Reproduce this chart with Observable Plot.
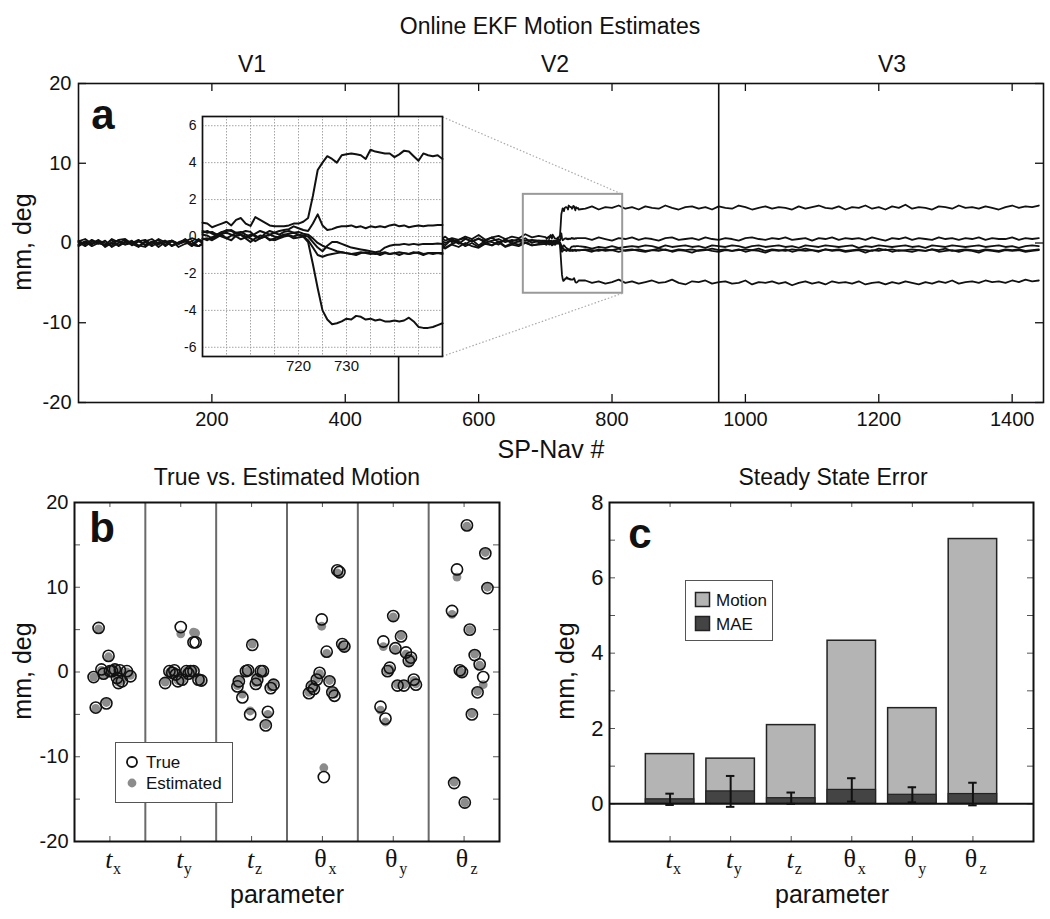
<!DOCTYPE html>
<html><head><meta charset="utf-8">
<script src="https://cdn.jsdelivr.net/npm/d3@7"></script>
<script src="https://cdn.jsdelivr.net/npm/@observablehq/plot@0.6"></script>
<style>
body{margin:0;background:#fff;}
#fig{position:relative;width:1050px;height:919px;background:#fff;font-family:"Liberation Sans",Arial,sans-serif;color:#111;overflow:hidden}
.wrap{position:absolute;}
.lbl{position:absolute;white-space:nowrap;transform:translate(-50%,-50%);line-height:1}
.legend{position:absolute;background:#fff;border:1px solid #555;box-sizing:border-box;}
.legend .it{position:absolute;white-space:nowrap;line-height:1;transform:translateY(-50%);}
</style></head><body><div id="fig"></div>
<script>
// ---------------- Panel a data ----------------
const seriesNames = ["A","B","C","D","E","F"];
const vBounds = [480, 960];
const versionLabels = ["V1","V2","V3"];
const xTicksA = [200,400,600,800,1000,1200,1400];
const yTicksA = [-20,-10,0,10,20];
// sample positions
const preX = d3.range(0, 700, 10);     // 0..690
const insetX = d3.range(700, 751, 1);  // 700..750
const postX = d3.range(760, 1441, 10); // 760..1440

const preA = [0.3,-0.2,0.4,0.0,-0.3,0.5,0.1,-0.2,0.3,-0.4, 0.2,0.5,-0.1,0.3,-0.3,0.1,0.4,-0.2,0.5,0.0, -0.3,0.3,0.1,-0.4,0.4,0.2,-0.1,0.5,-0.2,0.3, 0.0,0.4,-0.3,0.2,0.6,-0.1,0.3,0.5,0.0,0.4, -0.2,0.6,0.2,0.4,-0.1,0.5,0.3,0.7,0.1,0.6, 0.4,0.8,0.2,0.5,0.9,0.3,0.6,0.4,0.8,0.5, 1.0,0.4,0.7,0.9,0.5,0.8,0.6,1.1,0.7,0.9];
const preB = [-0.3,0.2,-0.1,0.4,-0.4,0.1,0.3,-0.2,0.0,0.4, -0.3,0.2,-0.5,0.1,0.3,-0.1,0.2,-0.4,0.3,0.0, 0.4,-0.2,0.1,-0.3,0.5,0.0,-0.2,0.3,-0.1,0.4, -0.4,0.2,0.0,0.5,-0.2,0.3,-0.3,0.1,0.4,-0.1, 0.3,-0.3,0.5,0.0,0.2,-0.2,0.6,0.1,-0.1,0.4, 0.0,0.5,-0.2,0.3,0.6,0.0,0.4,-0.1,0.5,0.2, 0.6,0.0,0.3,0.5,0.1,0.4,0.2,0.6,0.0,0.3];
const preC = [0.1,-0.4,0.2,-0.1,0.3,-0.5,0.0,0.4,-0.3,0.2, -0.2,0.1,0.4,-0.4,0.2,-0.1,0.5,-0.2,-0.4,0.2, 0.0,-0.3,0.3,-0.5,0.1,0.4,-0.2,0.2,-0.4,0.0, 0.5,-0.3,0.2,0.6,-0.2,0.3,-0.4,0.4,-0.1,0.2, 0.5,-0.3,0.4,-0.2,0.6,-0.4,0.1,0.5,-0.3,0.3, -0.1,0.6,-0.4,0.2,0.4,-0.3,0.5,0.0,-0.2,0.4, -0.3,0.3,0.1,-0.2,0.5,-0.1,0.2,0.0,0.3,0.1];
const preD = [-0.4,0.1,-0.2,0.3,-0.5,0.0,-0.3,0.2,-0.1,-0.5, 0.2,-0.4,0.1,-0.2,0.3,-0.5,-0.1,0.2,-0.4,0.0, -0.2,-0.5,0.1,-0.3,0.2,-0.1,-0.6,0.1,-0.3,0.0, -0.5,0.2,-0.3,-0.6,0.1,-0.4,-0.1,-0.7,-0.2,0.1, -0.5,-0.1,-0.6,-0.3,0.1,-0.5,-0.2,-0.7,0.0,-0.4, -0.6,-0.1,-0.5,0.1,-0.3,-0.7,-0.2,-0.5,0.0,-0.4, -0.6,-0.1,-0.3,0.1,-0.5,-0.2,-0.4,0.0,-0.3,-0.2];
const preE = [0.2,0.5,-0.1,0.3,0.0,-0.3,0.4,0.5,-0.1,0.2, 0.4,-0.2,0.5,0.1,0.3,-0.1,0.2,0.6,0.3,-0.2, 0.1,0.4,-0.1,0.5,0.3,0.0,0.6,-0.2,0.3,0.5, 0.0,0.4,-0.2,0.3,0.6,0.1,0.4,0.2,0.7,-0.1, 0.4,0.2,0.6,0.0,0.5,0.3,0.7,0.1,0.4,0.6, 0.2,0.5,0.0,0.6,0.3,0.8,0.1,0.4,0.6,0.2, 0.5,0.3,0.7,0.1,0.4,0.2,0.5,0.3,0.4,0.3];
const preF = [-0.2,0.2,-0.4,0.0,-0.2,0.4,-0.4,0.1,0.2,-0.3, -0.5,0.1,-0.2,0.3,-0.4,0.0,0.4,-0.2,-0.4,0.2, 0.0,-0.4,0.3,-0.2,-0.5,0.1,0.2,-0.4,0.0,-0.5, 0.2,-0.3,0.1,-0.6,0.3,-0.2,-0.5,0.2,-0.3,0.0, -0.6,0.2,-0.3,0.1,-0.5,0.3,-0.2,-0.6,0.1,-0.4, 0.2,-0.5,0.0,-0.3,0.3,-0.6,-0.1,0.2,-0.4,0.0, -0.5,0.1,-0.3,0.2,-0.4,0.0,-0.2,0.1,-0.3,-0.1];

const insA = [0.75,0.7,0.5,0.6,0.7,0.8,0.6,0.9,1.0,0.7, 0.57,1.05,0.9,0.75,0.6,0.55,0.55,0.55,0.6,0.7, 0.7,0.8,1.0,2.2,3.6,4.0,4.35,4.2,4.0,4.4, 4.45,4.5,4.45,4.4,4.2,4.7,4.6,4.55,4.5,4.5, 4.3,4.45,4.65,4.6,4.35,4.1,4.5,4.4,4.35,4.4, 4.2];
const insB = [0.2,0.3,0.15,0.1,0.25,0.3,0.35,0.2,0.25,0.1, 0.0,0.15,0.3,0.2,0.1,0.2,0.3,0.35,0.4,0.55, 0.45,0.35,0.3,0.7,1.2,0.6,0.35,0.4,0.5,0.55, 0.55,0.6,0.5,0.55,0.45,0.55,0.5,0.55,0.5,0.6, 0.65,0.55,0.6,0.5,0.55,0.6,0.55,0.6,0.6,0.62, 0.62];
const insC = [0.1,0.05,-0.1,0.0,0.15,0.2,0.1,0.0,-0.15,-0.05, 0.1,0.05,-0.1,0.0,0.1,0.0,-0.05,0.1,0.15,0.2, 0.1,0.05,0.0,-0.3,-0.6,-0.8,-0.5,-0.3,-0.3,-0.4, -0.5,-0.6,-0.65,-0.7,-0.75,-0.8,-0.85,-0.8,-0.6,-0.5, -0.45,-0.45,-0.4,-0.45,-0.4,-0.45,-0.4,-0.4,-0.4,-0.38, -0.4];
const insD = [-0.1,-0.2,-0.05,0.1,0.0,-0.1,-0.2,0.05,0.1,0.0, -0.1,-0.25,-0.1,0.0,-0.15,-0.2,-0.1,0.0,0.05,-0.1, -0.05,0.0,-0.2,-0.6,-1.0,-1.1,-1.0,-0.95,-0.9,-0.85, -0.9,-0.95,-1.0,-0.9,-0.85,-0.9,-0.95,-0.9,-0.85,-0.95, -0.9,-0.85,-0.9,-0.95,-0.85,-0.9,-1.0,-0.9,-0.9,-0.9, -0.9];
const insE = [0.3,0.2,0.25,0.1,0.2,0.35,0.3,0.15,0.2,0.3, 0.25,0.0,-0.1,0.15,0.3,0.2,0.1,0.25,0.3,0.2, 0.25,0.15,0.1,-0.1,-0.35,-0.5,-0.6,-0.7,-0.8,-0.85, -0.9,-0.95,-0.9,-0.85,-0.9,-0.95,-0.9,-1.0,-0.9,-0.95, -0.9,-1.0,-0.9,-0.95,-0.9,-0.85,-0.95,-0.9,-0.95,-0.9, -0.95];
const insF = [-0.15,-0.1,-0.2,-0.05,0.1,-0.1,0.05,0.2,0.1,-0.1, -0.3,-0.1,0.05,0.0,-0.2,-0.1,0.0,0.1,0.05,0.0, 0.1,0.0,-0.3,-1.5,-2.8,-4.0,-4.5,-4.75,-4.7,-4.6, -4.45,-4.5,-4.3,-4.35,-4.5,-4.45,-4.55,-4.5,-4.6,-4.6, -4.55,-4.6,-4.55,-4.4,-4.6,-4.9,-4.95,-4.95,-4.9,-4.8, -4.7];

const postA = [4.3,4.6,4.2,4.5,4.4,4.7,4.3,4.5,4.2,4.6, 4.4,4.3,4.7,4.4,4.2,4.5,4.6,4.3,4.5,4.2, 4.6,4.4,4.3,4.7,4.5,4.2,4.4,4.6,4.3,4.5, 4.4,4.2,4.6,4.3,4.5,4.7,4.4,4.3,4.6,4.2, 4.5,4.4,4.7,4.3,4.5,4.2,4.6,4.4,4.8,4.3, 4.5,4.4,4.2,4.6,4.5,4.3,4.7,4.4,4.5,4.3, 4.6,4.4,4.2,4.5,4.7,4.4,4.6,4.5,4.7];
const postB = [0.6,0.4,0.7,0.5,0.3,0.6,0.5,0.7,0.4,0.6, 0.5,0.3,0.6,0.7,0.4,0.5,0.6,0.4,0.7,0.5, 0.4,0.6,0.5,0.3,0.6,0.7,0.5,0.4,0.6,0.5, 0.7,0.4,0.5,0.6,0.3,0.6,0.5,0.7,0.4,0.6, 0.5,0.6,0.4,0.7,0.5,0.3,0.6,0.5,0.7,0.4, 0.6,0.5,0.4,0.7,0.5,0.6,0.4,0.6,0.5,0.7, 0.4,0.6,0.5,0.5,0.7,0.4,0.6,0.5,0.6];
const postC = [-0.5,-0.7,-0.5,-0.6,-0.4,-0.6,-0.5,-0.4,-0.5,-0.3, -0.4,-0.6,-0.3,-0.5,-0.4,-0.3,-0.5,-0.4,-0.6,-0.3, -0.4,-0.5,-0.3,-0.4,-0.6,-0.4,-0.3,-0.5,-0.4,-0.3, -0.5,-0.4,-0.6,-0.3,-0.4,-0.5,-0.3,-0.4,-0.5,-0.4, -0.3,-0.6,-0.4,-0.5,-0.3,-0.4,-0.5,-0.4,-0.3,-0.5, -0.4,-0.6,-0.3,-0.4,-0.5,-0.3,-0.4,-0.5,-0.4,-0.3, -0.5,-0.4,-0.3,-0.5,-0.4,-0.6,-0.4,-0.3,-0.4];
const postD = [-0.9,-1.1,-0.8,-1.0,-0.9,-1.1,-0.9,-0.8,-1.0,-1.1, -0.9,-1.0,-0.8,-1.1,-0.9,-1.0,-1.2,-0.9,-0.8,-1.0, -1.1,-0.9,-1.0,-0.8,-1.1,-0.9,-1.0,-1.2,-0.9,-1.0, -0.8,-1.1,-0.9,-1.0,-0.9,-1.1,-0.8,-1.0,-0.9,-1.1, -1.0,-0.9,-1.2,-0.9,-1.0,-0.8,-1.1,-0.9,-1.0,-1.1, -0.9,-1.0,-0.8,-1.1,-1.0,-0.9,-1.1,-0.9,-1.0,-1.2, -0.9,-1.0,-1.1,-0.9,-1.0,-0.9,-1.1,-1.0,-0.9];
const postE = [-0.8,-0.9,-1.0,-0.8,-0.9,-0.7,-1.0,-0.9,-0.8,-1.0, -0.9,-0.7,-0.9,-1.0,-0.8,-0.9,-0.8,-1.0,-0.9,-0.7, -0.9,-0.8,-1.0,-0.9,-0.8,-0.9,-0.7,-1.0,-0.8,-0.9, -1.0,-0.8,-0.9,-0.7,-0.9,-1.0,-0.8,-0.9,-0.8,-1.0, -0.9,-0.8,-0.9,-1.0,-0.7,-0.9,-0.8,-1.0,-0.9,-0.8, -0.9,-1.0,-0.8,-0.9,-0.7,-1.0,-0.9,-0.8,-0.9,-1.0, -0.8,-0.9,-1.0,-0.8,-0.9,-0.8,-1.0,-0.9,-0.8];
const postF = [-4.7,-5.0,-4.8,-5.1,-4.9,-4.6,-5.0,-4.8,-5.1,-4.9, -4.7,-5.0,-4.9,-4.6,-5.0,-5.2,-4.8,-4.9,-4.7,-5.1, -4.9,-4.8,-5.1,-5.0,-4.7,-5.2,-4.9,-5.0,-4.8,-5.1, -4.9,-5.3,-5.0,-4.8,-5.1,-4.9,-5.2,-4.8,-5.0,-4.9, -5.1,-4.8,-5.2,-5.0,-4.9,-5.2,-4.9,-5.1,-4.8,-5.0, -5.2,-4.9,-5.1,-4.8,-5.0,-4.7,-5.1,-4.9,-4.8,-5.0, -4.7,-4.9,-4.8,-5.0,-4.7,-4.9,-4.6,-4.8,-4.7];

const preVals = [preA,preB,preC,preD,preE,preF];
const insVals = [insA,insB,insC,insD,insE,insF];
const postVals = [postA,postB,postC,postD,postE,postF];

// zoom box and connectors (data coords of main panel)
const zoomBox = {x1: 667, x2: 816, y1: -6.3, y2: 6.1};
const connectors = [
  {x1: 546, y1: 15.8, x2: 816, y2: 6.1},
  {x1: 546, y1: -14.2, x2: 816, y2: -6.3}
];
const insetXTicks = [720, 730];
const insetYTicks = [-6,-4,-2,0,2,4,6];
const insetGridX = [705,710,715,720,725,730,735,740,745];

// ---------------- Panel b data ----------------
const paramMain = ["t","t","t","θ","θ","θ"];
const paramSub = ["x","y","z","x","y","z"];
// [x offset within category, true, estimated]
const bTx = [[-0.16,5.2,5.1],[-0.02,1.9,1.8],[-0.23,-0.6,-0.6],[-0.12,0.3,0.2],[-0.09,-0.2,-0.3],[0.0,0.1,0.1],[0.03,0.1,0.0],[0.1,-0.7,-0.6],[0.14,0.2,0.1],[0.17,-1.1,-1.0],[0.24,0.1,0.0],[0.29,-0.5,-0.4],[0.12,-1.3,-1.2],[-0.2,-4.2,-4.3],[-0.05,-3.7,-3.6],[0.07,0.3,0.3]];
const bTy = [[0.0,5.3,4.5],[0.18,3.5,4.7],[0.21,3.5,4.6],[-0.22,-1.3,-1.2],[-0.16,0.1,0.0],[-0.12,-0.1,-0.2],[-0.07,-0.3,-0.2],[-0.04,-1.1,-1.0],[0.02,-0.9,-0.9],[0.08,0.1,0.1],[0.14,0.1,0.0],[0.11,-0.2,-0.1],[0.25,-0.9,-0.8],[0.29,-1.0,-1.0],[0.18,0.1,0.2],[-0.09,0.2,0.1]];
const bTz = [[0.01,3.2,3.3],[-0.08,0.1,0.0],[-0.05,0.2,0.1],[0.13,0.1,0.0],[0.16,0.1,0.0],[-0.18,-1.1,-1.0],[-0.2,-1.7,-1.6],[-0.13,-3.0,-2.6],[0.06,-1.4,-1.3],[0.08,-0.9,-0.8],[0.31,-1.5,-1.4],[0.27,-1.9,-1.8],[-0.02,-5.0,-4.6],[0.23,-4.7,-5.0],[0.2,-6.3,-6.2]];
const bRx = [[0.21,12.0,11.7],[0.24,11.8,11.5],[-0.01,6.2,5.4],[0.06,2.4,2.2],[0.28,3.3,3.2],[0.31,3.0,2.9],[-0.04,-0.1,-0.2],[-0.08,-0.9,-0.8],[-0.15,-1.7,-1.6],[-0.19,-2.5,-2.4],[-0.12,-2.0,-1.9],[0.1,-1.1,-1.0],[0.14,-2.4,-2.3],[0.17,-2.8,-2.6],[0.02,-12.4,-11.3]];
const bRy = [[0.0,6.6,6.5],[-0.14,3.6,3.0],[0.11,4.2,4.3],[0.03,2.8,2.7],[0.18,2.3,2.1],[0.25,1.7,1.6],[0.22,1.3,1.2],[-0.05,0.5,0.4],[-0.08,0.1,0.1],[0.06,-1.6,-1.5],[0.15,-1.6,-1.5],[0.29,-0.9,-1.0],[0.32,-1.5,-1.4],[-0.18,-4.1,-4.5],[-0.11,-5.5,-5.9]];
const bRz = [[0.04,17.3,17.2],[0.3,14.0,14.1],[-0.1,12.1,11.2],[0.33,9.9,10.0],[-0.17,7.2,6.8],[0.08,5.0,5.0],[0.15,2.0,2.1],[0.22,0.9,0.8],[-0.06,0.2,0.1],[-0.03,0.0,-0.1],[0.27,-0.6,-1.5],[0.19,-2.4,-2.3],[0.11,-5.0,-4.9],[-0.14,-13.1,-13.0],[0.01,-15.4,-15.4]];
const bGroups = [bTx,bTy,bTz,bRx,bRy,bRz];
const yTicksB = [-20,-10,0,10,20];
const yMinorB = [-15,-10,-5,0,5,10,15];

// ---------------- Panel c data ----------------
const cMotion = [1.32,1.2,2.09,4.33,2.54,7.03];
const cMAE = [0.12,0.33,0.15,0.37,0.24,0.26];
const cSD = [0.15,0.41,0.15,0.31,0.2,0.3];
const yTicksC = [0,2,4,6,8];
const yMinorC = [0,1,2,3,4,5,6,7];

// ---------------- build ----------------
const fig = document.getElementById("fig");
const ff = '"Liberation Sans", Arial, sans-serif';
const serif = '"Liberation Serif", "DejaVu Serif", serif';
const ink = "#111";

function place(el, left, top) {
  const w = document.createElement("div");
  w.className = "wrap"; w.style.left = left + "px"; w.style.top = top + "px";
  w.appendChild(el); fig.appendChild(w); return w;
}
function label(txt, x, y, size, opts = {}) {
  const d = document.createElement("div");
  d.className = "lbl"; d.textContent = txt;
  d.style.left = x + "px"; d.style.top = y + "px"; d.style.fontSize = size + "px";
  if (opts.bold) d.style.fontWeight = "bold";
  if (opts.rotate) d.style.transform = `translate(-50%,-50%) rotate(${opts.rotate}deg)`;
  fig.appendChild(d); return d;
}

// Panel a
const mainData = [];
seriesNames.forEach((s, k) => {
  preX.forEach((x, i) => { if (preVals[k][i] !== undefined) mainData.push({s, x, y: preVals[k][i]}); });
  insetX.forEach((x, i) => { if (insVals[k][i] !== undefined) mainData.push({s, x, y: insVals[k][i]}); });
  postX.forEach((x, i) => { if (postVals[k][i] !== undefined) mainData.push({s, x, y: postVals[k][i]}); });
});
const insetData = [];
seriesNames.forEach((s, k) => insetX.forEach((x, i) => insetData.push({s, x, y: insVals[k][i]})));

const aW = 1050, aH = 450, aML = 78, aMR = 7, aMT = 83, aMB = 48;
const aFW = aW - aML - aMR, aFH = aH - aMT - aMB;
const tl = 8;
const plotA = Plot.plot({
  width: aW, height: aH, marginLeft: aML, marginRight: aMR, marginTop: aMT, marginBottom: aMB,
  x: {domain: [0, 1447]}, y: {domain: [-20, 20]},
  style: {fontFamily: ff, fontSize: "20px", color: ink, background: "transparent"},
  marks: [
    Plot.ruleX(vBounds, {x: d => d, stroke: ink, strokeWidth: 1.6}),
    Plot.line(mainData, {x: "x", y: "y", z: "s", stroke: ink, strokeWidth: 1.8}),
    Plot.rect([zoomBox], {x1: "x1", x2: "x2", y1: "y1", y2: "y2", fill: "none", stroke: "#9a9a9a", strokeWidth: 2}),
    Plot.link(connectors, {x1: "x1", y1: "y1", x2: "x2", y2: "y2", stroke: "#aaa", strokeWidth: 1.2, strokeDasharray: "1.5,2"}),
    Plot.tickX(xTicksA, {x: d => d, insetTop: aFH - tl, stroke: ink, strokeWidth: 1.3}),
    Plot.tickX(xTicksA, {x: d => d, insetBottom: aFH - tl, stroke: ink, strokeWidth: 1.3}),
    Plot.tickY(yTicksA, {y: d => d, insetRight: aFW - tl, stroke: ink, strokeWidth: 1.3}),
    Plot.tickY(yTicksA, {y: d => d, insetLeft: aFW - tl, stroke: ink, strokeWidth: 1.3}),
    Plot.axisX({ticks: xTicksA, tickSize: 0, tickPadding: 9, tickFormat: d => String(d), label: null}),
    Plot.axisY({ticks: yTicksA, tickSize: 0, tickPadding: 7, tickFormat: d => String(d), label: null}),
    Plot.frame({stroke: ink, strokeWidth: 1.6})
  ]
});
place(plotA, 0, 0);

// Inset
const iW = 292, iH = 290, iML = 42, iMR = 10, iMT = 16, iMB = 34;
const plotInset = Plot.plot({
  width: iW, height: iH, marginLeft: iML, marginRight: iMR, marginTop: iMT, marginBottom: iMB,
  x: {domain: [700, 750]}, y: {domain: [-6.5, 6.5]},
  style: {fontFamily: ff, fontSize: "14px", color: ink, background: "transparent"},
  marks: [
    Plot.frame({fill: "white", stroke: "none"}),
    Plot.ruleX(insetGridX, {x: d => d, stroke: "#9a9a9a", strokeWidth: 0.9, strokeDasharray: "1.5,1.5"}),
    Plot.ruleY(insetYTicks, {y: d => d, stroke: "#9a9a9a", strokeWidth: 0.9, strokeDasharray: "1.5,1.5"}),
    Plot.line(insetData, {x: "x", y: "y", z: "s", stroke: ink, strokeWidth: 2}),
    Plot.axisX({ticks: insetXTicks, tickSize: 0, tickPadding: 4, tickFormat: d => String(d), label: null, fontSize: 15}),
    Plot.axisY({ticks: insetYTicks, tickSize: 0, tickPadding: 6, tickFormat: d => String(d), label: null}),
    Plot.frame({stroke: ink, strokeWidth: 1.7})
  ]
});
place(plotInset, 160, 100);

label("Online EKF Motion Estimates", 550, 26, 23);
const vCenters = [252, 555, 892];
versionLabels.forEach((v, i) => label(v, vCenters[i], 64, 23));
label("mm, deg", 22, 242, 25, {rotate: -90});
label("SP-Nav #", 551, 449, 25);
label("a", 103, 115, 42, {bold: true});

// Panel b
const bData = [];
bGroups.forEach((g, c) => g.forEach(([off, tru, est]) => bData.push({c, x: c + 0.5 + off, tru, est})));
const catIdx = [0,1,2,3,4,5];
const tIdx = [0,1,2], rIdx = [3,4,5];
const bW = 520, bH = 459, bML = 74, bMR = 21, bMT = 42, bMB = 78;
const bFW = bW - bML - bMR, bFH = bH - bMT - bMB;
const plotB = Plot.plot({
  width: bW, height: bH, marginLeft: bML, marginRight: bMR, marginTop: bMT, marginBottom: bMB,
  x: {domain: [0, 6], axis: null}, y: {domain: [-20, 20]},
  style: {fontFamily: ff, fontSize: "20px", color: ink, background: "transparent"},
  marks: [
    Plot.ruleX([1,2,3,4,5], {x: d => d, stroke: "#6a6a6a", strokeWidth: 2}),
    Plot.tickX(catIdx, {x: i => i + 0.5, insetTop: bFH - 5, stroke: "#555"}),
    Plot.tickX(catIdx, {x: i => i + 0.5, insetBottom: bFH - 5, stroke: "#555"}),
    Plot.tickY(yMinorB, {y: d => d, insetRight: bFW - 6, stroke: "#555"}),
    Plot.tickY(yMinorB, {y: d => d, insetLeft: bFW - 6, stroke: "#555"}),
    Plot.dot(bData, {x: "x", y: "est", r: 4.4, fill: "#8c8c8c", stroke: "none"}),
    Plot.dot(bData, {x: "x", y: "tru", r: 5.6, fill: "none", stroke: ink, strokeWidth: 1.6}),
    Plot.axisY({ticks: yTicksB, tickSize: 0, tickPadding: 6, tickFormat: d => String(d), label: null}),
    Plot.text(tIdx, {x: i => i + 0.5, text: i => paramMain[i], frameAnchor: "bottom", dy: 26, dx: -1, fontFamily: serif, fontSize: 26, fontStyle: "italic"}),
    Plot.text(rIdx, {x: i => i + 0.5, text: i => paramMain[i], frameAnchor: "bottom", dy: 25, dx: -2, fontFamily: serif, fontSize: 26}),
    Plot.text(tIdx, {x: i => i + 0.5, text: i => paramSub[i], frameAnchor: "bottom", dy: 32, dx: 7, fontFamily: serif, fontSize: 16}),
    Plot.text(rIdx, {x: i => i + 0.5, text: i => paramSub[i], frameAnchor: "bottom", dy: 32, dx: 10, fontFamily: serif, fontSize: 16}),
    Plot.frame({stroke: ink, strokeWidth: 2})
  ]
});
place(plotB, 0, 460);
label("True vs. Estimated Motion", 287, 477, 23);
label("mm, deg", 22, 671, 25, {rotate: -90});
label("parameter", 287, 894, 25);
label("b", 102, 528, 42, {bold: true});

// legend b
const legB = document.createElement("div");
legB.className = "legend";
Object.assign(legB.style, {left: "115px", top: "742px", width: "118px", height: "61px"});
legB.innerHTML =
  `<svg width="118" height="61" style="position:absolute;left:0;top:0">
     <circle cx="16" cy="19" r="5" fill="none" stroke="${ink}" stroke-width="1.8"/>
     <circle cx="16" cy="40" r="4.4" fill="#8c8c8c"/>
   </svg>
   <div class="it" style="left:30px;top:19px;font-size:17px">True</div>
   <div class="it" style="left:30px;top:40px;font-size:17px">Estimated</div>`;
fig.appendChild(legB);

// Panel c
const cData = catIdx.map(i => ({i, motion: cMotion[i], mae: cMAE[i], lo: cMAE[i] - cSD[i], hi: cMAE[i] + cSD[i]}));
const cW = 530, cH = 459, cML = 89, cMR = 17, cMT = 42, cMB = 78;
const cFW = cW - cML - cMR, cFH = cH - cMT - cMB;
const plotC = Plot.plot({
  width: cW, height: cH, marginLeft: cML, marginRight: cMR, marginTop: cMT, marginBottom: cMB,
  x: {domain: [0, 7], axis: null}, y: {domain: [-1, 8]},
  style: {fontFamily: ff, fontSize: "20px", color: ink, background: "transparent"},
  marks: [
    Plot.tickX(catIdx, {x: i => i + 1, insetTop: cFH - 5, stroke: "#555"}),
    Plot.tickX(catIdx, {x: i => i + 1, insetBottom: cFH - 5, stroke: "#555"}),
    Plot.tickY(yMinorC, {y: d => d, insetRight: cFW - 6, stroke: "#555"}),
    Plot.tickY(yMinorC, {y: d => d, insetLeft: cFW - 6, stroke: "#555"}),
    Plot.rect(cData, {x1: d => d.i + 0.6, x2: d => d.i + 1.4, y1: 0, y2: "motion", fill: "#b4b4b4", stroke: "#222", strokeWidth: 1.5}),
    Plot.rect(cData, {x1: d => d.i + 0.6, x2: d => d.i + 1.4, y1: 0, y2: "mae", fill: "#444", stroke: "#222", strokeWidth: 1.2}),
    Plot.ruleY([0], {y: d => d, stroke: ink, strokeWidth: 2}),
    Plot.ruleX(cData, {x: d => d.i + 1, y1: "lo", y2: "hi", stroke: ink, strokeWidth: 2}),
    Plot.ruleY(cData, {y: "hi", x1: d => d.i + 0.93, x2: d => d.i + 1.07, stroke: ink, strokeWidth: 2}),
    Plot.ruleY(cData, {y: "lo", x1: d => d.i + 0.93, x2: d => d.i + 1.07, stroke: ink, strokeWidth: 2}),
    Plot.axisY({ticks: yTicksC, tickSize: 0, tickPadding: 6, tickFormat: d => String(d), label: null, fontSize: 22}),
    Plot.text(tIdx, {x: i => i + 1, text: i => paramMain[i], frameAnchor: "bottom", dy: 26, dx: -1, fontFamily: serif, fontSize: 26, fontStyle: "italic"}),
    Plot.text(rIdx, {x: i => i + 1, text: i => paramMain[i], frameAnchor: "bottom", dy: 25, dx: -2, fontFamily: serif, fontSize: 26}),
    Plot.text(tIdx, {x: i => i + 1, text: i => paramSub[i], frameAnchor: "bottom", dy: 32, dx: 7, fontFamily: serif, fontSize: 16}),
    Plot.text(rIdx, {x: i => i + 1, text: i => paramSub[i], frameAnchor: "bottom", dy: 32, dx: 10, fontFamily: serif, fontSize: 16}),
    Plot.frame({stroke: ink, strokeWidth: 2})
  ]
});
place(plotC, 520, 460);
label("Steady State Error", 833, 477, 23);
label("mm, deg", 565, 671, 25, {rotate: -90});
label("parameter", 832, 894, 25);
label("c", 640, 534, 42, {bold: true});

// legend c
const legC = document.createElement("div");
legC.className = "legend";
Object.assign(legC.style, {left: "685px", top: "580px", width: "88px", height: "61px"});
legC.innerHTML =
  `<svg width="88" height="61" style="position:absolute;left:0;top:0">
     <rect x="9.5" y="11.5" width="14" height="14" fill="#b4b4b4" stroke="#222" stroke-width="1.5"/>
     <rect x="9.5" y="35.5" width="14" height="14" fill="#444" stroke="#222" stroke-width="1.5"/>
   </svg>
   <div class="it" style="left:30px;top:19px;font-size:17px">Motion</div>
   <div class="it" style="left:30px;top:43px;font-size:17px">MAE</div>`;
fig.appendChild(legC);
</script></body></html>
